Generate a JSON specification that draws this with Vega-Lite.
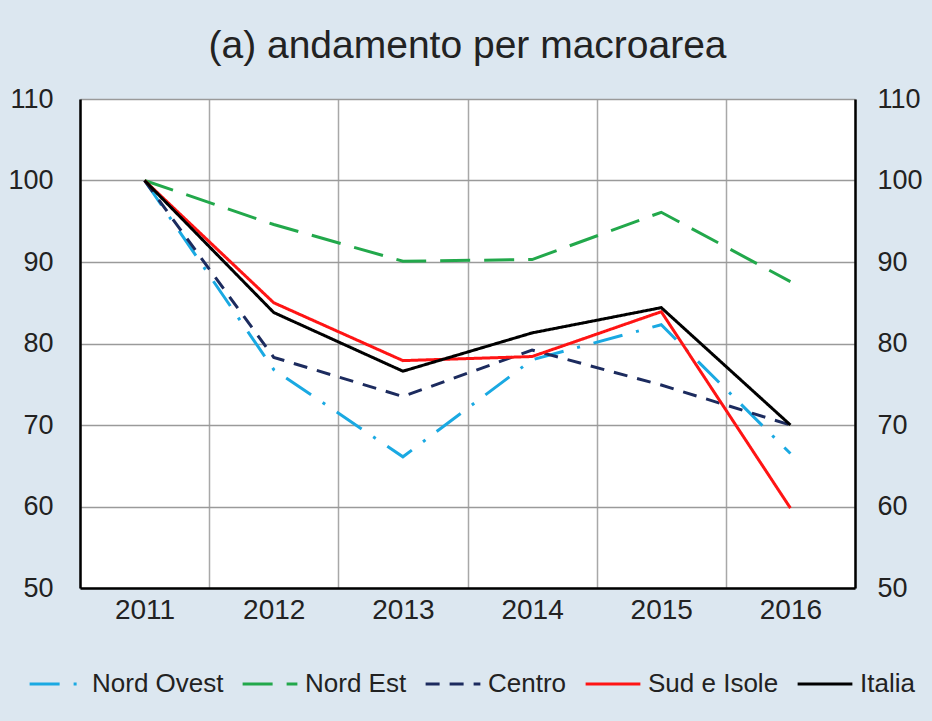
{
  "$schema": "https://vega.github.io/schema/vega-lite/v6.json",
  "width": 775,
  "height": 489,
  "autosize": "none",
  "padding": {"left": 80, "top": 99, "right": 77, "bottom": 133},
  "background": "#dce7f0",
  "title": {
    "text": "(a) andamento per macroarea",
    "font": "Liberation Sans",
    "fontSize": 39,
    "fontWeight": "normal",
    "color": "#222222",
    "anchor": "middle",
    "offset": 19
  },
  "config": {
    "view": {"fill": "white", "stroke": null},
    "font": "Liberation Sans",
    "axis": {
      "labelFont": "Liberation Sans",
      "labelFontSize": 27,
      "labelColor": "#222222",
      "ticks": false,
      "tickSize": 0,
      "title": null,
      "domainColor": "#000000",
      "domainWidth": 2.5
    }
  },
  "data": {
    "values": [
      {"year": "2011", "region": "Nord Ovest", "value": 100},
      {"year": "2012", "region": "Nord Ovest", "value": 76.8},
      {"year": "2013", "region": "Nord Ovest", "value": 66.1},
      {"year": "2014", "region": "Nord Ovest", "value": 78.0},
      {"year": "2015", "region": "Nord Ovest", "value": 82.3},
      {"year": "2016", "region": "Nord Ovest", "value": 66.5},
      {"year": "2011", "region": "Nord Est", "value": 100},
      {"year": "2012", "region": "Nord Est", "value": 94.6},
      {"year": "2013", "region": "Nord Est", "value": 90.1},
      {"year": "2014", "region": "Nord Est", "value": 90.3},
      {"year": "2015", "region": "Nord Est", "value": 96.1},
      {"year": "2016", "region": "Nord Est", "value": 87.6},
      {"year": "2011", "region": "Centro", "value": 100},
      {"year": "2012", "region": "Centro", "value": 78.3},
      {"year": "2013", "region": "Centro", "value": 73.5},
      {"year": "2014", "region": "Centro", "value": 79.2},
      {"year": "2015", "region": "Centro", "value": 74.9},
      {"year": "2016", "region": "Centro", "value": 70.0},
      {"year": "2011", "region": "Sud e Isole", "value": 100},
      {"year": "2012", "region": "Sud e Isole", "value": 85.0},
      {"year": "2013", "region": "Sud e Isole", "value": 77.9},
      {"year": "2014", "region": "Sud e Isole", "value": 78.4},
      {"year": "2015", "region": "Sud e Isole", "value": 83.9},
      {"year": "2016", "region": "Sud e Isole", "value": 59.8},
      {"year": "2011", "region": "Italia", "value": 100},
      {"year": "2012", "region": "Italia", "value": 83.8},
      {"year": "2013", "region": "Italia", "value": 76.6},
      {"year": "2014", "region": "Italia", "value": 81.3},
      {"year": "2015", "region": "Italia", "value": 84.4},
      {"year": "2016", "region": "Italia", "value": 70.0}
    ]
  },
  "encoding": {
    "x": {
      "field": "year",
      "type": "ordinal",
      "bandPosition": 0.5,
      "scale": {"type": "band", "paddingInner": 0, "paddingOuter": 0},
      "axis": {
        "labelAngle": 0,
        "labelPadding": 8,
        "labelFontSize": 28,
        "grid": true,
        "tickBand": "extent",
        "gridColor": "#a8a8a8",
        "gridWidth": 1.5
      }
    },
    "y": {
      "field": "value",
      "type": "quantitative",
      "scale": {"domain": [50, 110], "nice": false, "zero": false}
    }
  },
  "layer": [
    {
      "mark": {"type": "line", "strokeWidth": 3},
      "encoding": {
        "y": {
          "field": "value",
          "type": "quantitative",
          "scale": {"domain": [50, 110], "nice": false, "zero": false},
          "axis": {
            "orient": "left",
            "values": [50, 60, 70, 80, 90, 100, 110],
            "labelPadding": 27,
            "grid": true,
            "gridColor": "#9a9a9a",
            "gridWidth": 1.5
          }
        },
        "color": {
          "field": "region",
          "type": "nominal",
          "scale": {
            "domain": ["Nord Ovest", "Nord Est", "Centro", "Sud e Isole", "Italia"],
            "range": ["#1aa9e2", "#22a84b", "#1c2b5e", "#ff1414", "#000000"]
          },
          "legend": {
            "title": null,
            "orient": "none",
            "legendX": -52,
            "legendY": 556,
            "direction": "horizontal",
            "columns": 5,
            "symbolType": "stroke",
            "symbolSize": 3000,
            "symbolStrokeWidth": 3,
            "labelFont": "Liberation Sans",
            "labelFontSize": 26,
            "labelColor": "#222222",
            "labelOffset": 6,
            "columnPadding": 12,
            "padding": 0
          }
        },
        "strokeDash": {
          "field": "region",
          "type": "nominal",
          "scale": {
            "domain": ["Nord Ovest", "Nord Est", "Centro", "Sud e Isole", "Italia"],
            "range": [[30, 14, 3, 14], [30, 14], [14, 10], [1, 0], [1, 0]]
          },
          "legend": {
            "title": null,
            "orient": "none",
            "legendX": -52,
            "legendY": 556,
            "direction": "horizontal",
            "columns": 5,
            "symbolType": "stroke",
            "symbolSize": 3000,
            "symbolStrokeWidth": 3,
            "labelFont": "Liberation Sans",
            "labelFontSize": 26,
            "labelColor": "#222222",
            "labelOffset": 6,
            "columnPadding": 12,
            "padding": 0
          }
        }
      }
    },
    {
      "mark": {"type": "line", "opacity": 0},
      "encoding": {
        "detail": {"field": "region"},
        "y": {
          "field": "value",
          "type": "quantitative",
          "scale": {"domain": [50, 110], "nice": false, "zero": false},
          "axis": {
            "orient": "right",
            "values": [50, 60, 70, 80, 90, 100, 110],
            "labelPadding": 22,
            "grid": false
          }
        }
      }
    }
  ],
  "resolve": {"axis": {"y": "independent"}}
}
